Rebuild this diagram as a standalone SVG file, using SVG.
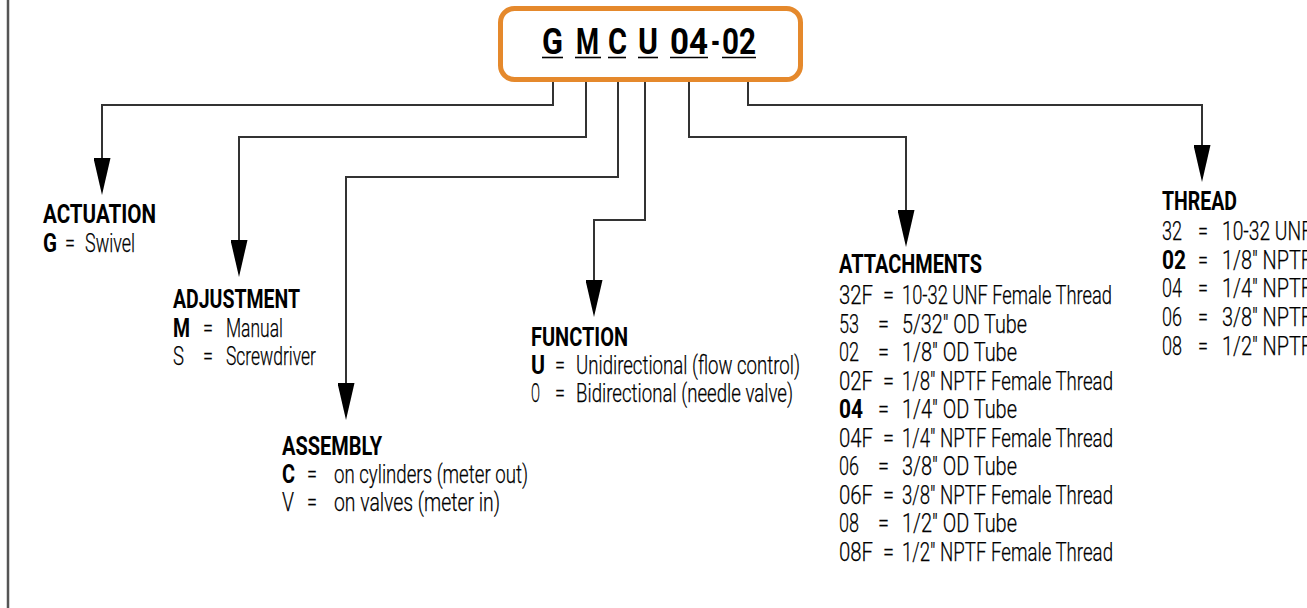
<svg xmlns="http://www.w3.org/2000/svg" width="1307" height="608" viewBox="0 0 1307 608">
<defs>
<style>
.conn{fill:none;stroke:#333;stroke-width:2}
.h{font-family:Roboto,"DejaVu Sans",sans-serif;font-weight:700;font-size:26px;fill:#000}
.t{font-family:Roboto,"DejaVu Sans",sans-serif;font-weight:300;font-size:26px;fill:#000;stroke:#000;stroke-width:0.25}
.k{font-family:Roboto,"DejaVu Sans",sans-serif;font-weight:700;font-size:26px;fill:#000}
.ttl{font-family:Roboto,"DejaVu Sans",sans-serif;font-weight:700;font-size:36px;fill:#000}
.ul{stroke:#000;stroke-width:1.6}
</style>
<marker id="arr" viewBox="0 -8.5 37 17" markerWidth="37" markerHeight="17" markerUnits="userSpaceOnUse" refX="0" refY="0" orient="auto">
<path d="M0,-8.5 L37,0 L0,8.5 Z" fill="#000"/>
</marker>
</defs>
<rect width="1307" height="608" fill="#fff"/>
<line x1="8" y1="0" x2="8" y2="608" stroke="#555" stroke-width="2.5"/>

<g id="connectors">
<path class="conn" marker-end="url(#arr)" d="M553,82 V105 H102 V158"/>
<path class="conn" marker-end="url(#arr)" d="M586,82 V137 H239 V240"/>
<path class="conn" marker-end="url(#arr)" d="M618,82 V177 H346 V383"/>
<path class="conn" marker-end="url(#arr)" d="M645,82 V220 H594 V280"/>
<path class="conn" marker-end="url(#arr)" d="M689,82 V137 H906 V210"/>
<path class="conn" marker-end="url(#arr)" d="M748,82 V105 H1202 V145"/>
</g>

<g id="code">
<rect x="500.5" y="8.5" width="300" height="71" rx="14" fill="#fff" stroke="#E5892C" stroke-width="5"/>
<text class="ttl" x="542" y="54" textLength="21" lengthAdjust="spacingAndGlyphs">G</text>
<text class="ttl" x="576" y="54" textLength="23" lengthAdjust="spacingAndGlyphs">M</text>
<text class="ttl" x="608" y="54" textLength="19" lengthAdjust="spacingAndGlyphs">C</text>
<text class="ttl" x="638" y="54" textLength="20" lengthAdjust="spacingAndGlyphs">U</text>
<text class="ttl" x="670" y="54" textLength="38" lengthAdjust="spacingAndGlyphs">04</text>
<text class="ttl" x="711" y="54" textLength="9" lengthAdjust="spacingAndGlyphs">-</text>
<text class="ttl" x="722" y="54" textLength="34" lengthAdjust="spacingAndGlyphs">02</text>
<line class="ul" x1="542" y1="57.5" x2="563" y2="57.5"/>
<line class="ul" x1="575" y1="57.5" x2="601" y2="57.5"/>
<line class="ul" x1="608" y1="57.5" x2="626" y2="57.5"/>
<line class="ul" x1="638" y1="57.5" x2="658" y2="57.5"/>
<line class="ul" x1="670" y1="57.5" x2="708" y2="57.5"/>
<line class="ul" x1="722" y1="57.5" x2="756" y2="57.5"/>
</g>

<g id="actuation">
<text class="h" x="43" y="223" textLength="113" lengthAdjust="spacingAndGlyphs">ACTUATION</text>
<text class="k" x="43" y="252" textLength="14" lengthAdjust="spacingAndGlyphs">G</text>
<text class="t" x="65" y="252" textLength="10" lengthAdjust="spacingAndGlyphs">=</text>
<text class="t" x="85" y="252" textLength="50" lengthAdjust="spacingAndGlyphs">Swivel</text>
</g>

<g id="adjustment">
<text class="h" x="173" y="308" textLength="127" lengthAdjust="spacingAndGlyphs">ADJUSTMENT</text>
<text class="k" x="173" y="337" textLength="17" lengthAdjust="spacingAndGlyphs">M</text>
<text class="t" x="203" y="337" textLength="10" lengthAdjust="spacingAndGlyphs">=</text>
<text class="t" x="226" y="337" textLength="57" lengthAdjust="spacingAndGlyphs">Manual</text>
<text class="t" x="173" y="365" textLength="11" lengthAdjust="spacingAndGlyphs">S</text>
<text class="t" x="203" y="365" textLength="10" lengthAdjust="spacingAndGlyphs">=</text>
<text class="t" x="226" y="365" textLength="90" lengthAdjust="spacingAndGlyphs">Screwdriver</text>
</g>

<g id="assembly">
<text class="h" x="282" y="455" textLength="100" lengthAdjust="spacingAndGlyphs">ASSEMBLY</text>
<text class="k" x="282" y="483" textLength="13" lengthAdjust="spacingAndGlyphs">C</text>
<text class="t" x="307" y="483" textLength="10" lengthAdjust="spacingAndGlyphs">=</text>
<text class="t" x="334" y="483" textLength="194" lengthAdjust="spacingAndGlyphs">on cylinders (meter out)</text>
<text class="t" x="282" y="511" textLength="12" lengthAdjust="spacingAndGlyphs">V</text>
<text class="t" x="307" y="511" textLength="10" lengthAdjust="spacingAndGlyphs">=</text>
<text class="t" x="334" y="511" textLength="166" lengthAdjust="spacingAndGlyphs">on valves (meter in)</text>
</g>

<g id="function">
<text class="h" x="531" y="346" textLength="97" lengthAdjust="spacingAndGlyphs">FUNCTION</text>
<text class="k" x="531" y="374" textLength="14" lengthAdjust="spacingAndGlyphs">U</text>
<text class="t" x="555" y="374" textLength="10" lengthAdjust="spacingAndGlyphs">=</text>
<text class="t" x="576" y="374" textLength="224" lengthAdjust="spacingAndGlyphs">Unidirectional (flow control)</text>
<text class="t" x="531" y="402" textLength="9" lengthAdjust="spacingAndGlyphs">O</text>
<text class="t" x="555" y="402" textLength="10" lengthAdjust="spacingAndGlyphs">=</text>
<text class="t" x="576" y="402" textLength="217" lengthAdjust="spacingAndGlyphs">Bidirectional (needle valve)</text>
</g>

<g id="attachments">
<text class="h" x="839" y="273" textLength="143" lengthAdjust="spacingAndGlyphs">ATTACHMENTS</text>
<text class="t" x="839" y="304" textLength="34" lengthAdjust="spacingAndGlyphs">32F</text>
<text class="t" x="883" y="304" textLength="11" lengthAdjust="spacingAndGlyphs">=</text>
<text class="t" x="902" y="304" textLength="210" lengthAdjust="spacingAndGlyphs">10-32 UNF Female Thread</text>
<text class="t" x="839" y="332.5" textLength="20" lengthAdjust="spacingAndGlyphs">53</text>
<text class="t" x="878" y="332.5" textLength="11" lengthAdjust="spacingAndGlyphs">=</text>
<text class="t" x="902" y="332.5" textLength="125" lengthAdjust="spacingAndGlyphs">5/32″ OD Tube</text>
<text class="t" x="839" y="361" textLength="20" lengthAdjust="spacingAndGlyphs">02</text>
<text class="t" x="878" y="361" textLength="11" lengthAdjust="spacingAndGlyphs">=</text>
<text class="t" x="902" y="361" textLength="115" lengthAdjust="spacingAndGlyphs">1/8″ OD Tube</text>
<text class="t" x="839" y="389.5" textLength="34" lengthAdjust="spacingAndGlyphs">02F</text>
<text class="t" x="883" y="389.5" textLength="11" lengthAdjust="spacingAndGlyphs">=</text>
<text class="t" x="902" y="389.5" textLength="211" lengthAdjust="spacingAndGlyphs">1/8″ NPTF Female Thread</text>
<text class="k" x="839" y="418" textLength="24" lengthAdjust="spacingAndGlyphs">04</text>
<text class="t" x="878" y="418" textLength="11" lengthAdjust="spacingAndGlyphs">=</text>
<text class="t" x="902" y="418" textLength="115" lengthAdjust="spacingAndGlyphs">1/4″ OD Tube</text>
<text class="t" x="839" y="446.5" textLength="34" lengthAdjust="spacingAndGlyphs">04F</text>
<text class="t" x="883" y="446.5" textLength="11" lengthAdjust="spacingAndGlyphs">=</text>
<text class="t" x="902" y="446.5" textLength="211" lengthAdjust="spacingAndGlyphs">1/4″ NPTF Female Thread</text>
<text class="t" x="839" y="475" textLength="20" lengthAdjust="spacingAndGlyphs">06</text>
<text class="t" x="878" y="475" textLength="11" lengthAdjust="spacingAndGlyphs">=</text>
<text class="t" x="902" y="475" textLength="115" lengthAdjust="spacingAndGlyphs">3/8″ OD Tube</text>
<text class="t" x="839" y="503.5" textLength="34" lengthAdjust="spacingAndGlyphs">06F</text>
<text class="t" x="883" y="503.5" textLength="11" lengthAdjust="spacingAndGlyphs">=</text>
<text class="t" x="902" y="503.5" textLength="211" lengthAdjust="spacingAndGlyphs">3/8″ NPTF Female Thread</text>
<text class="t" x="839" y="532" textLength="20" lengthAdjust="spacingAndGlyphs">08</text>
<text class="t" x="878" y="532" textLength="11" lengthAdjust="spacingAndGlyphs">=</text>
<text class="t" x="902" y="532" textLength="115" lengthAdjust="spacingAndGlyphs">1/2″ OD Tube</text>
<text class="t" x="839" y="560.5" textLength="34" lengthAdjust="spacingAndGlyphs">08F</text>
<text class="t" x="883" y="560.5" textLength="11" lengthAdjust="spacingAndGlyphs">=</text>
<text class="t" x="902" y="560.5" textLength="211" lengthAdjust="spacingAndGlyphs">1/2″ NPTF Female Thread</text>
</g>

<g id="thread">
<text class="h" x="1162" y="210" textLength="75" lengthAdjust="spacingAndGlyphs">THREAD</text>
<text class="t" x="1162" y="240" textLength="20" lengthAdjust="spacingAndGlyphs">32</text>
<text class="t" x="1198" y="240" textLength="10" lengthAdjust="spacingAndGlyphs">=</text>
<text class="t" x="1222" y="240" textLength="90" lengthAdjust="spacingAndGlyphs">10-32 UNF</text>
<text class="k" x="1162" y="268.5" textLength="24" lengthAdjust="spacingAndGlyphs">02</text>
<text class="t" x="1198" y="268.5" textLength="10" lengthAdjust="spacingAndGlyphs">=</text>
<text class="t" x="1222" y="268.5" textLength="90" lengthAdjust="spacingAndGlyphs">1/8″ NPTF</text>
<text class="t" x="1162" y="297" textLength="20" lengthAdjust="spacingAndGlyphs">04</text>
<text class="t" x="1198" y="297" textLength="10" lengthAdjust="spacingAndGlyphs">=</text>
<text class="t" x="1222" y="297" textLength="90" lengthAdjust="spacingAndGlyphs">1/4″ NPTF</text>
<text class="t" x="1162" y="326" textLength="20" lengthAdjust="spacingAndGlyphs">06</text>
<text class="t" x="1198" y="326" textLength="10" lengthAdjust="spacingAndGlyphs">=</text>
<text class="t" x="1222" y="326" textLength="90" lengthAdjust="spacingAndGlyphs">3/8″ NPTF</text>
<text class="t" x="1162" y="355" textLength="20" lengthAdjust="spacingAndGlyphs">08</text>
<text class="t" x="1198" y="355" textLength="10" lengthAdjust="spacingAndGlyphs">=</text>
<text class="t" x="1222" y="355" textLength="90" lengthAdjust="spacingAndGlyphs">1/2″ NPTF</text>
</g>
</svg>
